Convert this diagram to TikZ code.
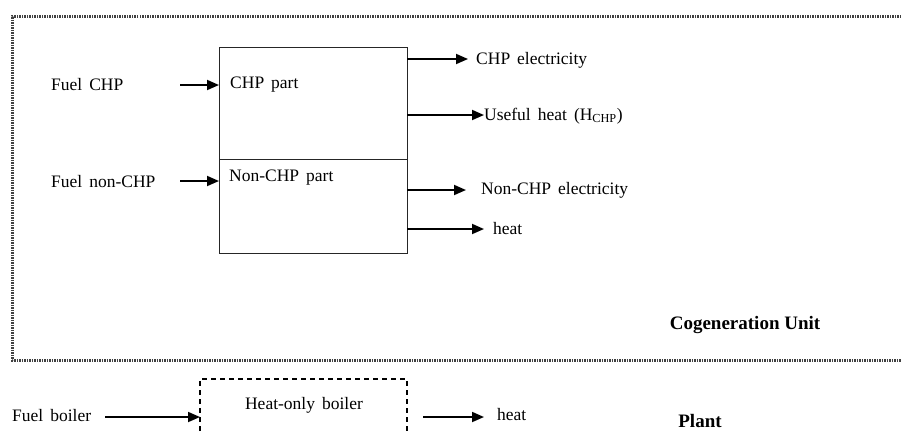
\documentclass[tikz,border=0pt]{standalone}
\usepackage{fontspec}
\setmainfont{Liberation Serif}
\usetikzlibrary{arrows.meta}
\newcommand{\widespace}{\spaceskip=0.4em plus 0.1em\relax}
\begin{document}
\begin{tikzpicture}[x=1pt,y=-1pt,
  lbl/.style={anchor=west,inner sep=0pt,font=\fontsize{17.5}{19}\selectfont\widespace},
  blbl/.style={inner sep=0pt,font=\fontsize{19}{21}\selectfont\bfseries},
  flow/.style={line width=1.8pt,-{Triangle[length=12pt,width=10pt]}},
  part/.style={draw=black!85,line width=1.1pt,minimum width=188pt,inner sep=0pt,anchor=north west},
  unitline/.style={draw=black!75,line width=3pt,dash pattern=on 1.5pt off 1pt}]
\useasboundingbox (0,0) rectangle (901,432);
% outer cogeneration unit frame
\draw[unitline] (901,16) -- (12,16) -- (12,360) -- (901,360);
% CHP box
\node[part,minimum height=112pt] (chp) at (219,47) {};
\node[part,minimum height=94pt] (nonchp) at (219,159) {};
\node[lbl] (chpt) at (230,85) {CHP part};
\node[lbl] (nonchpt) at (229,178) {Non-CHP part};
% inputs
\node[lbl] (fchp) at (51,85) {Fuel CHP};
\node[lbl] (fnon) at (51,182) {Fuel non-CHP};
\coordinate (s1) at (180,85);
\coordinate (s2) at (180,181);
\draw[flow] (s1) -- (s1 -| chp.west);
\draw[flow] (s2) -- (s2 -| nonchp.west);
% outputs
\node[lbl] (o1) at (476,60) {CHP electricity};
\node[lbl] (o2) at (484,116) {Useful heat (H\textsubscript{CHP})};
\node[lbl] (o3) at (481,190) {Non-CHP electricity};
\node[lbl] (o4) at (493,229) {heat};
\coordinate (e1) at (407,59);
\coordinate (e2) at (407,115);
\coordinate (e3) at (407,190);
\coordinate (e4) at (407,229);
\draw[flow] (e1) -- (468,59);
\draw[flow] (e2) -- (e2 -| o2.west);
\draw[flow] (e3) -- (466,190);
\draw[flow] (e4) -- (484,229);
\node[blbl] (cu) at (745,325) {Cogeneration Unit};
% heat-only boiler
\draw[line width=1.6pt,dash pattern=on 5pt off 4pt] (200,440) -- (200,379) -- (407,379) -- (407,440);
\coordinate (bw) at (200,417);
\node[lbl,anchor=center] (hob) at (304,405) {Heat-only boiler};
\node[lbl] (fb) at (12,416) {Fuel boiler};
\coordinate (fbs) at (105,417);
\draw[flow] (fbs) -- (bw);
\coordinate (be) at (423,417);
\node[lbl] (bh) at (497,415) {heat};
\draw[flow] (be) -- (484,417);
\node[blbl] (pl) at (700,421) {Plant};
\end{tikzpicture}
\end{document}
